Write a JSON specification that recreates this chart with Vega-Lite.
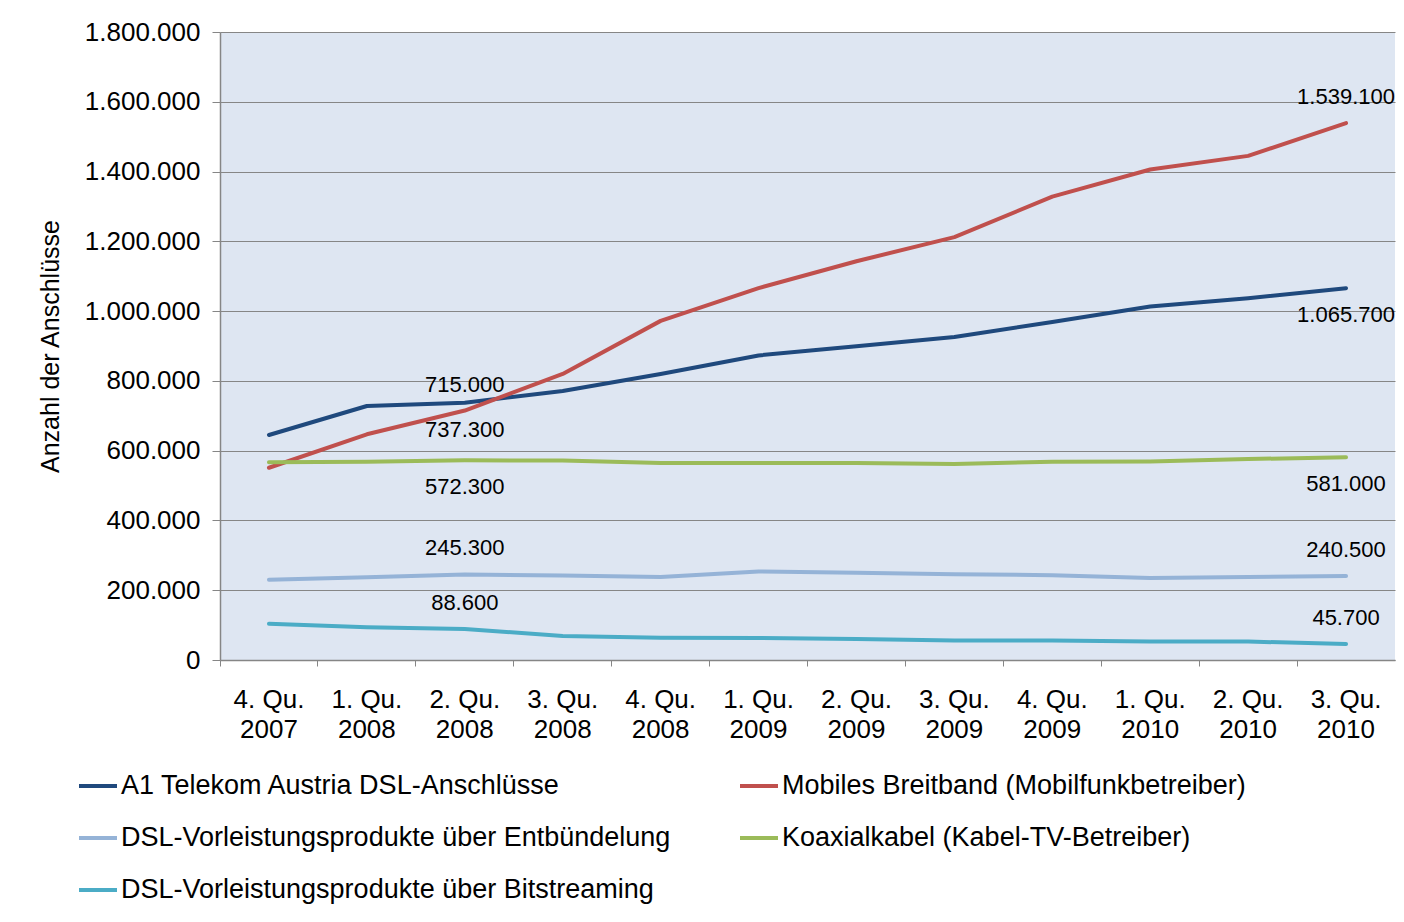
{
  "$schema": "https://vega.github.io/schema/vega-lite/v6.json",
  "width": 1175,
  "height": 628,
  "autosize": {"type": "none"},
  "padding": {"left": 220, "top": 32, "right": 9, "bottom": 262},
  "background": "white",
  "config": {
    "locale": {"number": {"decimal": ",", "thousands": ".", "grouping": [3], "currency": ["", " €"]}},
    "font": "Liberation Sans",
    "view": {"fill": "#DEE6F2", "stroke": null}
  },
  "data": {
    "values": [
      {"quartal": "4. Qu. 2007", "serie": "A1 Telekom Austria DSL-Anschlüsse", "wert": 645000},
      {"quartal": "1. Qu. 2008", "serie": "A1 Telekom Austria DSL-Anschlüsse", "wert": 728000},
      {"quartal": "2. Qu. 2008", "serie": "A1 Telekom Austria DSL-Anschlüsse", "wert": 737300},
      {"quartal": "3. Qu. 2008", "serie": "A1 Telekom Austria DSL-Anschlüsse", "wert": 771000},
      {"quartal": "4. Qu. 2008", "serie": "A1 Telekom Austria DSL-Anschlüsse", "wert": 820000},
      {"quartal": "1. Qu. 2009", "serie": "A1 Telekom Austria DSL-Anschlüsse", "wert": 873000},
      {"quartal": "2. Qu. 2009", "serie": "A1 Telekom Austria DSL-Anschlüsse", "wert": 899000},
      {"quartal": "3. Qu. 2009", "serie": "A1 Telekom Austria DSL-Anschlüsse", "wert": 926000},
      {"quartal": "4. Qu. 2009", "serie": "A1 Telekom Austria DSL-Anschlüsse", "wert": 969000},
      {"quartal": "1. Qu. 2010", "serie": "A1 Telekom Austria DSL-Anschlüsse", "wert": 1013000},
      {"quartal": "2. Qu. 2010", "serie": "A1 Telekom Austria DSL-Anschlüsse", "wert": 1037000},
      {"quartal": "3. Qu. 2010", "serie": "A1 Telekom Austria DSL-Anschlüsse", "wert": 1065700},
      {"quartal": "4. Qu. 2007", "serie": "Mobiles  Breitband (Mobilfunkbetreiber)", "wert": 551000},
      {"quartal": "1. Qu. 2008", "serie": "Mobiles  Breitband (Mobilfunkbetreiber)", "wert": 647000},
      {"quartal": "2. Qu. 2008", "serie": "Mobiles  Breitband (Mobilfunkbetreiber)", "wert": 715000},
      {"quartal": "3. Qu. 2008", "serie": "Mobiles  Breitband (Mobilfunkbetreiber)", "wert": 820000},
      {"quartal": "4. Qu. 2008", "serie": "Mobiles  Breitband (Mobilfunkbetreiber)", "wert": 972000},
      {"quartal": "1. Qu. 2009", "serie": "Mobiles  Breitband (Mobilfunkbetreiber)", "wert": 1066000},
      {"quartal": "2. Qu. 2009", "serie": "Mobiles  Breitband (Mobilfunkbetreiber)", "wert": 1143000},
      {"quartal": "3. Qu. 2009", "serie": "Mobiles  Breitband (Mobilfunkbetreiber)", "wert": 1212000},
      {"quartal": "4. Qu. 2009", "serie": "Mobiles  Breitband (Mobilfunkbetreiber)", "wert": 1328000},
      {"quartal": "1. Qu. 2010", "serie": "Mobiles  Breitband (Mobilfunkbetreiber)", "wert": 1406000},
      {"quartal": "2. Qu. 2010", "serie": "Mobiles  Breitband (Mobilfunkbetreiber)", "wert": 1445000},
      {"quartal": "3. Qu. 2010", "serie": "Mobiles  Breitband (Mobilfunkbetreiber)", "wert": 1539100},
      {"quartal": "4. Qu. 2007", "serie": "DSL-Vorleistungsprodukte über Entbündelung", "wert": 230000},
      {"quartal": "1. Qu. 2008", "serie": "DSL-Vorleistungsprodukte über Entbündelung", "wert": 237000},
      {"quartal": "2. Qu. 2008", "serie": "DSL-Vorleistungsprodukte über Entbündelung", "wert": 245300},
      {"quartal": "3. Qu. 2008", "serie": "DSL-Vorleistungsprodukte über Entbündelung", "wert": 242000},
      {"quartal": "4. Qu. 2008", "serie": "DSL-Vorleistungsprodukte über Entbündelung", "wert": 238000},
      {"quartal": "1. Qu. 2009", "serie": "DSL-Vorleistungsprodukte über Entbündelung", "wert": 254000},
      {"quartal": "2. Qu. 2009", "serie": "DSL-Vorleistungsprodukte über Entbündelung", "wert": 250000},
      {"quartal": "3. Qu. 2009", "serie": "DSL-Vorleistungsprodukte über Entbündelung", "wert": 246000},
      {"quartal": "4. Qu. 2009", "serie": "DSL-Vorleistungsprodukte über Entbündelung", "wert": 243000},
      {"quartal": "1. Qu. 2010", "serie": "DSL-Vorleistungsprodukte über Entbündelung", "wert": 235000},
      {"quartal": "2. Qu. 2010", "serie": "DSL-Vorleistungsprodukte über Entbündelung", "wert": 238000},
      {"quartal": "3. Qu. 2010", "serie": "DSL-Vorleistungsprodukte über Entbündelung", "wert": 240500},
      {"quartal": "4. Qu. 2007", "serie": "Koaxialkabel (Kabel-TV-Betreiber)", "wert": 567000},
      {"quartal": "1. Qu. 2008", "serie": "Koaxialkabel (Kabel-TV-Betreiber)", "wert": 568000},
      {"quartal": "2. Qu. 2008", "serie": "Koaxialkabel (Kabel-TV-Betreiber)", "wert": 572300},
      {"quartal": "3. Qu. 2008", "serie": "Koaxialkabel (Kabel-TV-Betreiber)", "wert": 572000},
      {"quartal": "4. Qu. 2008", "serie": "Koaxialkabel (Kabel-TV-Betreiber)", "wert": 565000},
      {"quartal": "1. Qu. 2009", "serie": "Koaxialkabel (Kabel-TV-Betreiber)", "wert": 565000},
      {"quartal": "2. Qu. 2009", "serie": "Koaxialkabel (Kabel-TV-Betreiber)", "wert": 565000},
      {"quartal": "3. Qu. 2009", "serie": "Koaxialkabel (Kabel-TV-Betreiber)", "wert": 562000},
      {"quartal": "4. Qu. 2009", "serie": "Koaxialkabel (Kabel-TV-Betreiber)", "wert": 568000},
      {"quartal": "1. Qu. 2010", "serie": "Koaxialkabel (Kabel-TV-Betreiber)", "wert": 569000},
      {"quartal": "2. Qu. 2010", "serie": "Koaxialkabel (Kabel-TV-Betreiber)", "wert": 576000},
      {"quartal": "3. Qu. 2010", "serie": "Koaxialkabel (Kabel-TV-Betreiber)", "wert": 581000},
      {"quartal": "4. Qu. 2007", "serie": "DSL-Vorleistungsprodukte über Bitstreaming", "wert": 104000},
      {"quartal": "1. Qu. 2008", "serie": "DSL-Vorleistungsprodukte über Bitstreaming", "wert": 94000},
      {"quartal": "2. Qu. 2008", "serie": "DSL-Vorleistungsprodukte über Bitstreaming", "wert": 88600},
      {"quartal": "3. Qu. 2008", "serie": "DSL-Vorleistungsprodukte über Bitstreaming", "wert": 69000},
      {"quartal": "4. Qu. 2008", "serie": "DSL-Vorleistungsprodukte über Bitstreaming", "wert": 64000},
      {"quartal": "1. Qu. 2009", "serie": "DSL-Vorleistungsprodukte über Bitstreaming", "wert": 63000},
      {"quartal": "2. Qu. 2009", "serie": "DSL-Vorleistungsprodukte über Bitstreaming", "wert": 60000},
      {"quartal": "3. Qu. 2009", "serie": "DSL-Vorleistungsprodukte über Bitstreaming", "wert": 56000},
      {"quartal": "4. Qu. 2009", "serie": "DSL-Vorleistungsprodukte über Bitstreaming", "wert": 56000},
      {"quartal": "1. Qu. 2010", "serie": "DSL-Vorleistungsprodukte über Bitstreaming", "wert": 53000},
      {"quartal": "2. Qu. 2010", "serie": "DSL-Vorleistungsprodukte über Bitstreaming", "wert": 53000},
      {"quartal": "3. Qu. 2010", "serie": "DSL-Vorleistungsprodukte über Bitstreaming", "wert": 45700}
    ]
  },
  "encoding": {
    "x": {
      "field": "quartal",
      "type": "ordinal",
      "bandPosition": 0.5,
      "sort": ["4. Qu. 2007", "1. Qu. 2008", "2. Qu. 2008", "3. Qu. 2008", "4. Qu. 2008", "1. Qu. 2009", "2. Qu. 2009", "3. Qu. 2009", "4. Qu. 2009", "1. Qu. 2010", "2. Qu. 2010", "3. Qu. 2010"],
      "scale": {"type": "band", "paddingInner": 0, "paddingOuter": 0},
      "axis": {
        "title": null,
        "bandPosition": 0,
        "labelAngle": 0,
        "labelExpr": "[slice(datum.label, 0, 6), slice(datum.label, 7)]",
        "labelFontSize": 26,
        "labelLineHeight": 30,
        "labelColor": "#000000",
        "labelPadding": 20,
        "tickSize": 6,
        "tickColor": "#868686",
        "domainColor": "#868686",
        "domainWidth": 1.5,
        "grid": false
      }
    },
    "y": {
      "field": "wert",
      "type": "quantitative",
      "scale": {"domain": [0, 1800000], "nice": false},
      "axis": {
        "title": "Anzahl der Anschlüsse",
        "titleFontSize": 25,
        "titleFontWeight": "normal",
        "titleColor": "#000000",
        "titleX": -157,
        "titleY": 314,
        "values": [0, 200000, 400000, 600000, 800000, 1000000, 1200000, 1400000, 1600000, 1800000],
        "format": ",d",
        "labelFontSize": 26,
        "labelColor": "#000000",
        "labelPadding": 12,
        "tickSize": 8,
        "tickColor": "#868686",
        "domainColor": "#868686",
        "domainWidth": 1.5,
        "grid": true,
        "gridColor": "#868686",
        "gridWidth": 1
      }
    }
  },
  "layer": [
    {
      "mark": {"type": "line", "strokeWidth": 4, "strokeCap": "round", "strokeJoin": "round"},
      "encoding": {
        "color": {
          "field": "serie",
          "type": "nominal",
          "scale": {
            "domain": ["A1 Telekom Austria DSL-Anschlüsse", "Mobiles  Breitband (Mobilfunkbetreiber)", "DSL-Vorleistungsprodukte über Entbündelung", "Koaxialkabel (Kabel-TV-Betreiber)", "DSL-Vorleistungsprodukte über Bitstreaming"],
            "range": ["#1F497D", "#C0504D", "#95B3D7", "#9BBB59", "#4BACC6"]
          },
          "legend": {
            "title": null,
            "orient": "none",
            "direction": "horizontal",
            "legendX": -143,
            "legendY": 733,
            "columns": 2,
            "symbolType": "stroke",
            "symbolSize": 1444,
            "symbolStrokeWidth": 4,
            "labelFontSize": 27,
            "labelColor": "#000000",
            "labelOffset": 2,
            "labelLimit": 0,
            "rowPadding": 18,
            "columnPadding": 61
          }
        }
      }
    },
    {
      "transform": [
        {"filter": {"and": [
          {"field": "quartal", "oneOf": ["2. Qu. 2008", "3. Qu. 2010"]},
          {"field": "serie", "oneOf": ["Mobiles  Breitband (Mobilfunkbetreiber)", "DSL-Vorleistungsprodukte über Entbündelung", "DSL-Vorleistungsprodukte über Bitstreaming"]}
        ]}}
      ],
      "mark": {"type": "text", "dy": -26, "fontSize": 22, "color": "#000000"},
      "encoding": {"text": {"field": "wert", "type": "quantitative", "format": ",d"}}
    },
    {
      "transform": [
        {"filter": {"and": [
          {"field": "quartal", "oneOf": ["2. Qu. 2008", "3. Qu. 2010"]},
          {"field": "serie", "oneOf": ["A1 Telekom Austria DSL-Anschlüsse", "Koaxialkabel (Kabel-TV-Betreiber)"]}
        ]}}
      ],
      "mark": {"type": "text", "dy": 27, "fontSize": 22, "color": "#000000"},
      "encoding": {"text": {"field": "wert", "type": "quantitative", "format": ",d"}}
    }
  ]
}
